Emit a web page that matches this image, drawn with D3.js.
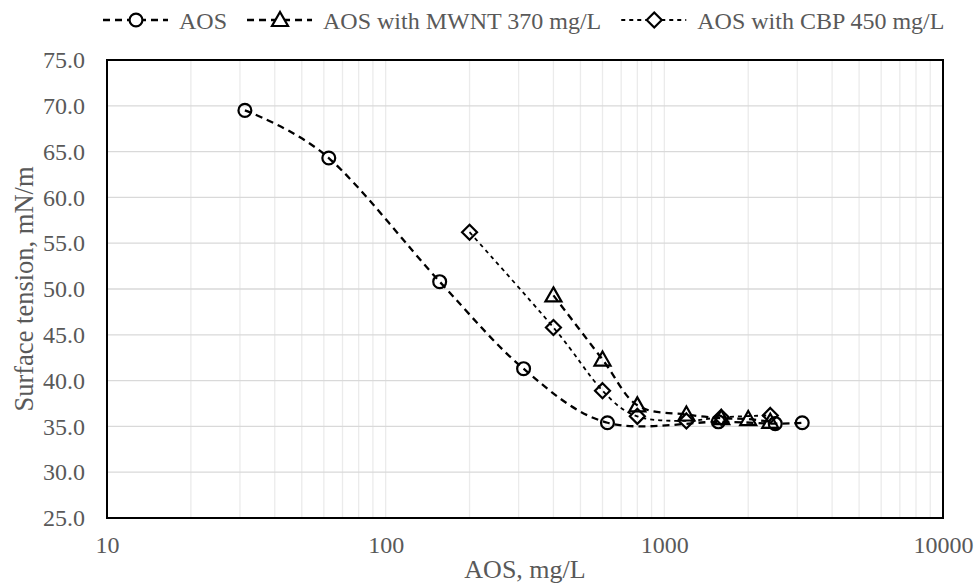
<!DOCTYPE html>
<html><head><meta charset="utf-8">
<script src="https://cdn.jsdelivr.net/npm/d3@7"></script>
<style>body{margin:0;background:#fff}</style>
</head><body>
<svg id="chart" width="974" height="586"></svg>
<script>
const seriesNames = ["AOS", "AOS with MWNT 370 mg/L", "AOS with CBP 450 mg/L"];
const aosX = [31.25, 62.5, 156.25, 312.5, 625, 1562.5, 2500, 3125];
const aosY = [69.5, 64.3, 50.8, 41.3, 35.4, 35.5, 35.3, 35.4];
const mwntX = [400, 600, 800, 1200, 1600, 2000, 2400];
const mwntY = [49.3, 42.3, 37.3, 36.3, 35.9, 35.8, 35.5];
const cbpX = [200, 400, 600, 800, 1200, 1600, 2400];
const cbpY = [56.2, 45.8, 38.9, 36.1, 35.6, 36.0, 36.2];
const xTicks = [10, 100, 1000, 10000];
const yTicks = [25, 30, 35, 40, 45, 50, 55, 60, 65, 70, 75];

const W = 974, H = 586;
const m = {l: 107, r: 31, t: 60, b: 68};
const svg = d3.select("#chart");
const font = "'Liberation Serif','Times New Roman',serif";
const x = d3.scaleLog().domain([10, 10000]).range([m.l, W - m.r]);
const y = d3.scaleLinear().domain([25, 75]).range([H - m.b, m.t]);

// minor vertical grid
const minor = [];
for (let d = 10; d < 10000; d *= 10) for (let k = 2; k <= 10; k++) minor.push(d * k);
svg.append("g").selectAll("line").data(minor).join("line")
  .attr("x1", d => x(d)).attr("x2", d => x(d)).attr("y1", y(25)).attr("y2", y(75))
  .attr("stroke", "#ebebeb").attr("stroke-width", 1.3);
// horizontal grid
svg.append("g").selectAll("line").data(yTicks).join("line")
  .attr("x1", x(10)).attr("x2", x(10000)).attr("y1", d => y(d)).attr("y2", d => y(d))
  .attr("stroke", "#d9d9d9").attr("stroke-width", 1.3);

// axes labels via d3 axes
const yAxis = svg.append("g").attr("transform", `translate(${m.l},0)`)
  .call(d3.axisLeft(y).tickValues(yTicks).tickFormat(d3.format(".1f")).tickSize(0).tickPadding(22));
const xAxis = svg.append("g").attr("transform", `translate(0,${H - m.b})`)
  .call(d3.axisBottom(x).tickValues(xTicks).tickFormat(d3.format("d")).tickSize(0).tickPadding(18));
[yAxis, xAxis].forEach(a => {
  a.select(".domain").remove();
  a.selectAll("text").attr("font-family", font).attr("font-size", 24).attr("fill", "#595959");
});

// frame
svg.append("rect").attr("x", x(10)).attr("y", y(75)).attr("width", x(10000) - x(10)).attr("height", y(25) - y(75))
  .attr("fill", "none").attr("stroke", "#000").attr("stroke-width", 2);

// titles
svg.append("text").attr("x", (x(10) + x(10000)) / 2).attr("y", 578).attr("text-anchor", "middle")
  .attr("font-family", font).attr("font-size", 26).attr("fill", "#595959").text("AOS, mg/L");
svg.append("text").attr("transform", `translate(33,${(y(25) + y(75)) / 2}) rotate(-90)`).attr("text-anchor", "middle")
  .attr("font-family", font).attr("font-size", 26.5).attr("fill", "#595959").text("Surface tension, mN/m");

const series = [
  {xs: aosX, ys: aosY, marker: "circle", dash: "7,5", sw: 2.3},
  {xs: mwntX, ys: mwntY, marker: "triangle", dash: "7,5", sw: 2.3},
  {xs: cbpX, ys: cbpY, marker: "diamond", dash: "4,4", sw: 1.8}
];
function markerPath(type) {
  if (type === "circle") return d3.symbol(d3.symbolCircle, 130)();
  if (type === "triangle") return "M0,-8L8,6L-8,6Z";
  return "M0,-7.5L7.5,0L0,7.5L-7.5,0Z";
}
const line = d3.line().x(d => x(d[0])).y(d => y(d[1])).curve(d3.curveCardinal.tension(0));
series.forEach(s => {
  const pts = s.xs.map((v, i) => [v, s.ys[i]]);
  svg.append("path").datum(pts).attr("d", line).attr("fill", "none")
    .attr("stroke", "#000").attr("stroke-width", s.sw).attr("stroke-dasharray", s.dash);
});
series.forEach(s => {
  const pts = s.xs.map((v, i) => [v, s.ys[i]]);
  svg.append("g").selectAll("path").data(pts).join("path")
    .attr("d", markerPath(s.marker)).attr("transform", d => `translate(${x(d[0])},${y(d[1])})`)
    .attr("fill", "none").attr("stroke", "#000").attr("stroke-width", 2.2);
});

// legend
const leg = svg.append("g");
let cx = 136;
series.forEach((s, i) => {
  const g = leg.append("g").attr("transform", `translate(${cx},20)`);
  g.append("line").attr("x1", -33).attr("x2", 32).attr("y1", 0).attr("y2", 0)
    .attr("stroke", "#000").attr("stroke-width", s.sw).attr("stroke-dasharray", s.dash);
  g.append("path").attr("d", markerPath(s.marker))
    .attr("fill", "#fff").attr("stroke", "#000").attr("stroke-width", 2.2);
  const t = g.append("text").attr("x", 43).attr("y", 9).attr("font-family", font).attr("font-size", 24)
    .attr("fill", "#595959").text(seriesNames[i]);
  cx += 43 + t.node().getComputedTextLength() + 53;
});
</script>
</body></html>
